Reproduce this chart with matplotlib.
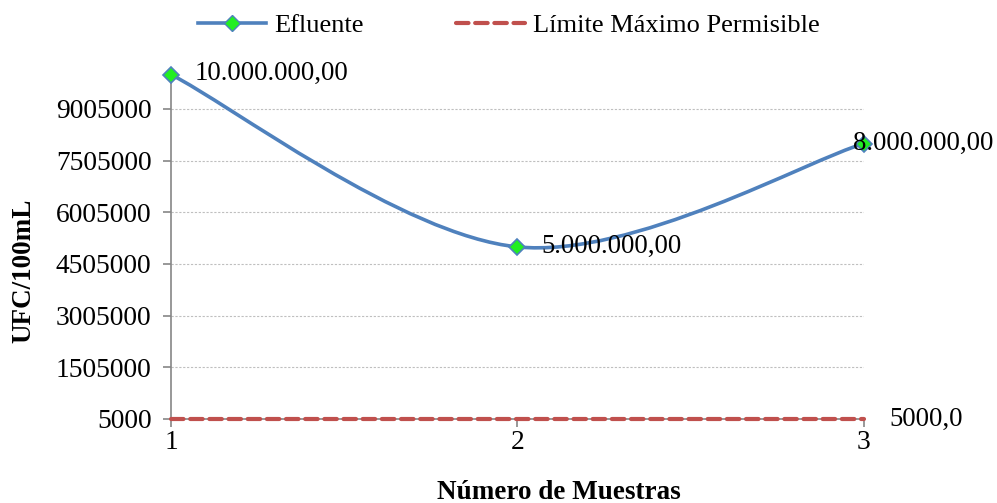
import matplotlib
matplotlib.use("Agg")
import matplotlib.pyplot as plt
from matplotlib.path import Path
from matplotlib.patches import PathPatch
from matplotlib.lines import Line2D

plt.rcParams['font.family'] = ['Liberation Serif', 'DejaVu Serif']

muestras = [1, 2, 3]
efluente = [10000000, 5000000, 8000000]
limite = [5000, 5000, 5000]
efluente_labels = ["10.000.000,00", "5.000.000,00", "8.000.000,00"]
limite_label = "5000,0"
y_ticks = [5000, 1505000, 3005000, 4505000, 6005000, 7505000, 9005000]
y_max = 10005000

blue = "#4F81BD"
red = "#C0504D"
green = "#22EE22"

fig = plt.figure(figsize=(9.97, 5.03), dpi=100)
ax = fig.add_axes([0.1715, 0.167, 0.695, 0.685])

# smoothed line: cubic Bezier segments (Catmull-Rom style tangents)
pts = list(zip(muestras, efluente))
n = len(pts)
verts = [pts[0]]
codes = [Path.MOVETO]
for i in range(n - 1):
    p0 = pts[i - 1] if i > 0 else pts[i]
    p1 = pts[i]
    p2 = pts[i + 1]
    p3 = pts[i + 2] if i + 2 < n else pts[i + 1]
    c1 = (p1[0] + (p2[0] - p0[0]) / 6, p1[1] + (p2[1] - p0[1]) / 6)
    c2 = (p2[0] - (p3[0] - p1[0]) / 6, p2[1] - (p3[1] - p1[1]) / 6)
    verts += [c1, c2, p2]
    codes += [Path.CURVE4] * 3
ax.add_patch(PathPatch(Path(verts, codes), facecolor="none", edgecolor=blue,
                       lw=2.6, clip_on=False, zorder=3))
ax.plot(muestras, efluente, linestyle="none", marker="D", ms=8,
        mfc=green, mec=blue, mew=1.2, clip_on=False, zorder=4)

ax.plot(muestras, limite, color=red, lw=3, linestyle=(0, (3, 1.6)),
        clip_on=False, zorder=3, solid_capstyle="round", dash_capstyle="round")

# data labels (last one pulled left so it stays inside the figure)
offsets = [(17, 1), (17, 0), (-8, 0)]
for x, y, t, off in zip(muestras, efluente, efluente_labels, offsets):
    ax.annotate(t, (x, y), xytext=off, textcoords="offset points",
                ha="left", va="center", fontsize=19.3, zorder=5)
ax.annotate(limite_label, (muestras[-1], limite[-1]), xytext=(18, 0),
            textcoords="offset points", ha="left", va="center", fontsize=19.3)

ax.set_xlim(1, 3)
ax.set_ylim(5000, y_max)
ax.set_xticks(muestras)
ax.set_xticklabels([str(m) for m in muestras])
ax.set_yticks(y_ticks)
ax.set_yticklabels([str(v) for v in y_ticks])
ax.tick_params(axis="both", labelsize=19.8, color="#868686", length=6, width=1.2)
ax.tick_params(axis="y", pad=8)
ax.tick_params(axis="x", pad=2)

ax.grid(axis="y", color="#BFBFBF", linestyle=(0, (2, 1.5)), lw=0.8)
ax.set_axisbelow(True)
for s in ["top", "right"]:
    ax.spines[s].set_visible(False)
for s in ["left", "bottom"]:
    ax.spines[s].set_color("#868686")
    ax.spines[s].set_linewidth(1.2)

ax.set_ylabel("UFC/100mL", fontsize=19.5, fontweight="bold", va="center")
ax.yaxis.set_label_coords(-0.213, 0.43)
ax.set_xlabel("Número de Muestras", fontsize=19.5, fontweight="bold", va="center")
ax.xaxis.set_label_coords(0.56, -0.213)

handles = [
    Line2D([], [], color=blue, lw=2.6, marker="D", ms=8, mfc=green, mec=blue),
    Line2D([], [], color=red, lw=3, linestyle=(0, (3, 1.6)),
           dash_capstyle="round"),
]
fig.legend(handles, ["Efluente", "Límite Máximo Permisible"], loc="center",
           bbox_to_anchor=(0.51, 0.95), ncol=2, frameon=False, fontsize=19,
           handlelength=2.6, columnspacing=3.5, handletextpad=0.3)

fig.savefig("out.png", dpi=100)
